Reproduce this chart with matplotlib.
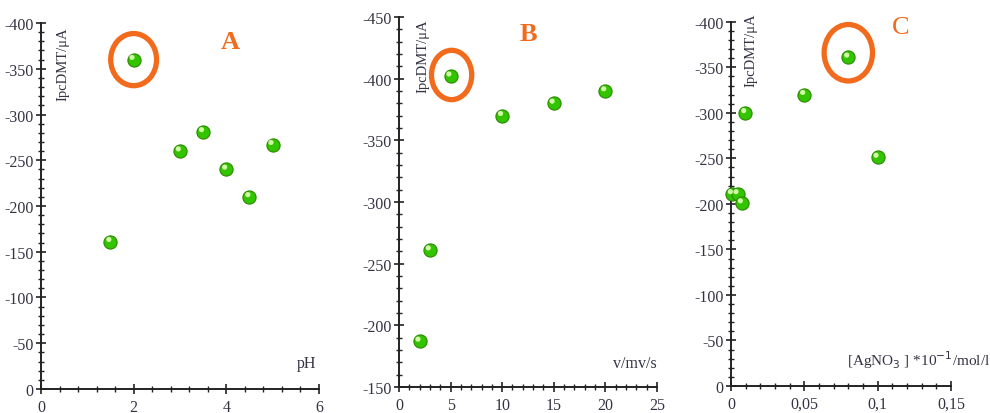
import matplotlib
matplotlib.use('Agg')
import matplotlib.pyplot as plt
from matplotlib.patches import Ellipse
from matplotlib.ticker import MultipleLocator, FuncFormatter
from matplotlib.transforms import ScaledTranslation

plt.rcParams['font.family'] = ['Liberation Serif', 'DejaVu Serif']

# A: effect of pH
ph = [1.5, 2, 3, 3.5, 4, 4.5, 5]
ipc_ph = [-161, -360, -260, -281, -240, -210, -267]

# B: effect of scan rate
scan = [2, 3, 5, 10, 15, 20]
ipc_scan = [-187, -261, -402, -370, -380, -390]

# C: effect of AgNO3 concentration
agno3 = [0.0007, 0.0045, 0.0075, 0.0098, 0.05, 0.08, 0.1]
ipc_ag = [-211, -211, -201, -300, -320, -361, -251]

# index of the optimum point in each panel
best = [1, 2, 5]

ORANGE = '#f26b1d'
GREEN = '#33c400'


def comma(v, pos):
    s = '%g' % v
    return s.replace('.', ',')


def setup(ax, xlim, ylim, xmaj, xmin, ymaj, ymin, fmt=None):
    ax.set_xlim(*xlim)
    ax.set_ylim(*ylim)
    ax.spines['top'].set_visible(False)
    ax.spines['right'].set_visible(False)
    for s in ('left', 'bottom'):
        ax.spines[s].set_color('#222222')
        ax.spines[s].set_linewidth(1.4)
    ax.xaxis.set_major_locator(MultipleLocator(xmaj))
    ax.xaxis.set_minor_locator(MultipleLocator(xmin))
    ax.yaxis.set_major_locator(MultipleLocator(ymaj))
    ax.yaxis.set_minor_locator(MultipleLocator(ymin))
    ax.tick_params(which='major', direction='inout', length=7, width=1.2,
                   labelsize=11.5, colors='#222222', labelcolor='#333344')
    ax.tick_params(which='minor', direction='inout', length=4, width=1.0,
                   colors='#222222')
    ax.tick_params(axis='y', pad=2)
    ax.yaxis.set_major_formatter(FuncFormatter(lambda v, p: '%d' % v))
    if fmt is not None:
        ax.xaxis.set_major_formatter(FuncFormatter(fmt))
    ax.patch.set_alpha(0)


def balls(ax, x, y):
    ax.scatter(x, y, s=90, color=GREEN, edgecolor='#2a8a00', linewidth=0.8,
               zorder=3, clip_on=False)
    # small glossy spot, nudged up and left
    shift = ax.transData + ScaledTranslation(-1.2 / 72, 1.6 / 72,
                                             ax.figure.dpi_scale_trans)
    ax.scatter(x, y, s=14, color='#d8ffb0', edgecolor='none', zorder=4,
               alpha=0.95, clip_on=False, transform=shift)


def ring(ax, xy, w, h):
    ax.add_patch(Ellipse(xy, w, h, fill=False, edgecolor=ORANGE,
                         linewidth=3.8, zorder=5, clip_on=False))


def ylabel(ax, x, top):
    ax.text(x, top, 'IpcDMT/μA', transform=ax.transAxes, rotation=90,
            ha='center', va='top', fontsize=10.5, color='#333344')


def letter(ax, s, x, y, weight='bold'):
    ax.text(x, y, s, transform=ax.transAxes, fontsize=19,
            fontweight=weight, color=ORANGE, ha='center', va='center')


fig = plt.figure(figsize=(9.9, 4.14), dpi=100)

axA = fig.add_axes([0.0414, 0.058, 0.2808, 0.884])
setup(axA, (0, 6), (0, -400), 2, 0.4, 50, 10)
balls(axA, ph, ipc_ph)
ring(axA, (ph[best[0]], ipc_ph[best[0]]), 0.99, 57)
ylabel(axA, 0.08, 0.99)
letter(axA, 'A', 0.68, 0.95)
axA.text(0.99, 0.07, 'pH', transform=axA.transAxes, fontsize=11.5,
         ha='right', va='center', color='#333344')

axB = fig.add_axes([0.403, 0.0628, 0.2606, 0.8937])
setup(axB, (0, 25), (-150, -450), 5, 1, 50, 10)
balls(axB, scan, ipc_scan)
ring(axB, (5.1, ipc_scan[best[1]] - 1), 3.9, 40)
ylabel(axB, 0.093, 0.995)
letter(axB, 'B', 0.5, 0.955)
axB.text(1.0, 0.065, 'v/mv/s', transform=axB.transAxes, fontsize=11.5,
         ha='right', va='center', color='#333344')

axC = fig.add_axes([0.7384, 0.0652, 0.2222, 0.8797])
setup(axC, (0, 0.15), (0, -400), 0.05, 0.01, 50, 10, fmt=comma)
balls(axC, agno3, ipc_ag)
ring(axC, (agno3[best[2]], ipc_ag[best[2]] - 5), 0.033, 62)
ylabel(axC, 0.09, 1.025)
letter(axC, 'C', 0.77, 0.985, weight='normal')
axC.text(1.18, 0.075, '[AgNO$_3$ ] *10$^{-1}$/mol/l', transform=axC.transAxes,
         fontsize=11, ha='right', va='center', color='#333344')

fig.savefig('out.png', dpi=100, facecolor='white')
